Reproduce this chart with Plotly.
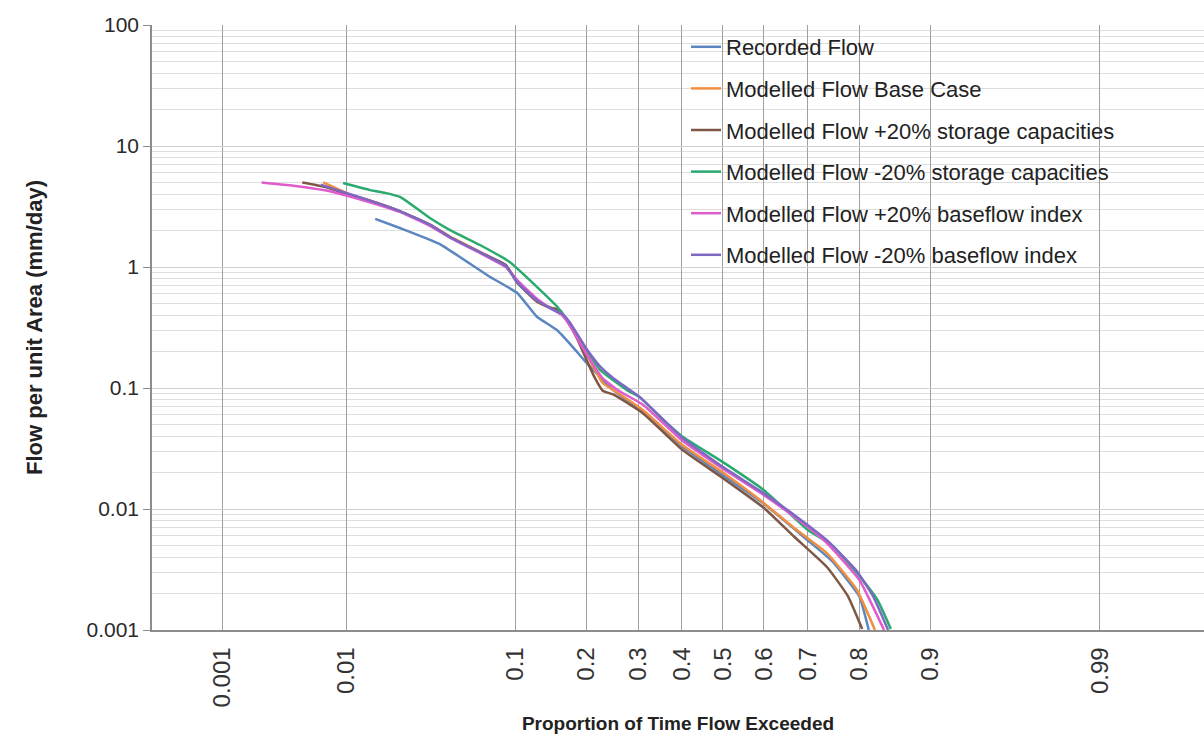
import plotly.graph_objects as go
from statistics import NormalDist

# ---------------- data (proportion of time exceeded, flow mm/day) ----------------
p_recorded = [0.0159, 0.023, 0.040, 0.075, 0.102, 0.125, 0.153, 0.177, 0.20, 0.249, 0.30, 0.40, 0.50, 0.60, 0.70, 0.75, 0.80, 0.816]
q_recorded = [2.5, 2.1, 1.55, 0.83, 0.61, 0.39, 0.30, 0.218, 0.161, 0.096, 0.068, 0.033, 0.019, 0.011, 0.0055, 0.0037, 0.0019, 0.001]

p_base = [0.0068, 0.01, 0.015, 0.023, 0.035, 0.046, 0.067, 0.09, 0.102, 0.125, 0.145, 0.16, 0.172, 0.2, 0.229, 0.26, 0.31, 0.40, 0.50, 0.59, 0.667, 0.74, 0.796, 0.826]
q_base = [5.0, 4.1, 3.5, 2.9, 2.25, 1.78, 1.33, 1.03, 0.76, 0.52, 0.45, 0.41, 0.34, 0.19, 0.11, 0.09, 0.066, 0.034, 0.020, 0.0119, 0.0071, 0.0043, 0.00214, 0.001]

p_stor_up = [0.0047, 0.007, 0.01, 0.015, 0.023, 0.035, 0.046, 0.067, 0.09, 0.102, 0.125, 0.145, 0.157, 0.168, 0.185, 0.2, 0.215, 0.229, 0.25, 0.31, 0.40, 0.50, 0.60, 0.67, 0.74, 0.78, 0.805]
q_stor_up = [5.0, 4.6, 4.0, 3.5, 2.9, 2.25, 1.77, 1.32, 1.04, 0.74, 0.52, 0.46, 0.44, 0.36, 0.25, 0.17, 0.12, 0.095, 0.088, 0.062, 0.031, 0.018, 0.0102, 0.0059, 0.0033, 0.0019, 0.00102]

p_stor_dn = [0.0095, 0.0147, 0.0185, 0.0231, 0.0352, 0.046, 0.0668, 0.094, 0.12, 0.153, 0.189, 0.224, 0.277, 0.304, 0.35, 0.40, 0.50, 0.60, 0.70, 0.75, 0.80, 0.83, 0.85]
q_stor_dn = [4.94, 4.32, 4.1, 3.79, 2.54, 2.02, 1.52, 1.1, 0.74, 0.47, 0.249, 0.141, 0.096, 0.084, 0.057, 0.040, 0.0244, 0.0143, 0.0067, 0.0050, 0.0028, 0.00177, 0.00102]

p_bfi_up = [0.0022, 0.004, 0.007, 0.01, 0.015, 0.023, 0.035, 0.046, 0.067, 0.09, 0.102, 0.125, 0.145, 0.16, 0.172, 0.2, 0.229, 0.26, 0.31, 0.40, 0.50, 0.60, 0.68, 0.74, 0.80, 0.84]
q_bfi_up = [5.0, 4.7, 4.3, 3.9, 3.4, 2.85, 2.2, 1.75, 1.3, 1.0, 0.78, 0.55, 0.45, 0.40, 0.33, 0.19, 0.12, 0.095, 0.073, 0.037, 0.0215, 0.013, 0.0081, 0.0052, 0.0026, 0.001]

p_bfi_dn = [0.0065, 0.01, 0.015, 0.023, 0.035, 0.046, 0.067, 0.09, 0.102, 0.125, 0.145, 0.16, 0.172, 0.2, 0.224, 0.25, 0.304, 0.40, 0.50, 0.598, 0.676, 0.74, 0.795, 0.823, 0.846]
q_bfi_dn = [4.8, 4.1, 3.5, 2.9, 2.25, 1.76, 1.32, 1.02, 0.75, 0.53, 0.45, 0.41, 0.35, 0.21, 0.151, 0.12, 0.084, 0.039, 0.0222, 0.0136, 0.0086, 0.0055, 0.0031, 0.0019, 0.001]

series_names = [
    "Recorded Flow",
    "Modelled Flow Base Case",
    "Modelled Flow +20% storage capacities",
    "Modelled Flow -20% storage capacities",
    "Modelled Flow +20% baseflow index",
    "Modelled Flow -20% baseflow index",
]
series_colors = ["#5b86c0", "#f28e3f", "#7e5746", "#2aaa6e", "#e05ccc", "#7d68c4"]

x_tick_labels = ["0.001", "0.01", "0.1", "0.2", "0.3", "0.4", "0.5", "0.6", "0.7", "0.8", "0.9", "0.99"]
y_tick_labels = ["0.001", "0.01", "0.1", "1", "10", "100"]

# ---------------- probability (normal) scale ----------------
nd = NormalDist()
def probit(vals):
    return [nd.inv_cdf(v) for v in vals]

series = [
    (p_recorded, q_recorded),
    (p_base, q_base),
    (p_stor_up, q_stor_up),
    (p_stor_dn, q_stor_dn),
    (p_bfi_up, q_bfi_up),
    (p_bfi_dn, q_bfi_dn),
]

FONT = "Liberation Sans, Arial, sans-serif"

fig = go.Figure()
for i, ((px, qy), name, col) in enumerate(zip(series, series_names, series_colors)):
    fig.add_trace(go.Scatter(
        x=probit(px), y=qy, mode="lines", name=name,
        legendgroup=f"g{i}",
        line=dict(color=col, width=2.5, shape="spline", smoothing=0.4),
    ))

x_tick_vals = probit([float(t) for t in x_tick_labels])
y_tick_vals = [float(t) for t in y_tick_labels]
minor_vals = [m * 10 ** e for e in range(-3, 2) for m in range(2, 10)]

# white legend panel covering the grid (drawn under the data)
fig.add_shape(type="rect", xref="paper", yref="paper",
              x0=(665 - 152) / 1052, x1=(1160 - 152) / 1052,
              y0=(630 - 275) / 605, y1=(630 - 28) / 605,
              fillcolor="white", line=dict(width=0), layer="below")

fig.update_layout(
    width=1204, height=738,
    margin=dict(l=152, r=0, t=25, b=108),
    paper_bgcolor="white", plot_bgcolor="white",
    font=dict(family=FONT, color="#222222", size=16),
    showlegend=True,
    legend=dict(
        x=(686 - 152) / 1052, y=(630 - 26) / 605, xanchor="left", yanchor="top",
        bgcolor="rgba(0,0,0,0)", borderwidth=0,
        font=dict(family=FONT, size=22, color="#222222"),
        traceorder="grouped", tracegroupgap=10,
    ),
    xaxis=dict(
        range=[-3.525, 2.97],
        tickmode="array", tickvals=x_tick_vals, ticktext=x_tick_labels,
        tickangle=-90, tickfont=dict(size=24, color="#333333"),
        showgrid=True, gridcolor="#a0a0a0", gridwidth=1,
        zeroline=False, showline=True, linecolor="#8c8c8c", linewidth=1.5,
        ticks="", ticklabelstandoff=6,
        title=dict(text="<b>Proportion of Time Flow Exceeded</b>",
                   font=dict(size=19, color="#222222"), standoff=10),
    ),
    yaxis=dict(
        type="log", range=[-3, 2],
        tickmode="array", tickvals=y_tick_vals, ticktext=y_tick_labels,
        tickfont=dict(size=21, color="#2a2a2a"),
        showgrid=True, gridcolor="#cfcfcf", gridwidth=1,
        minor=dict(tickmode="array", tickvals=minor_vals, showgrid=True,
                   gridcolor="#dedede", gridwidth=1, ticks=""),
        zeroline=False, showline=True, linecolor="#8c8c8c", linewidth=1.5,
        ticks="outside", ticklen=7, tickcolor="#8c8c8c",
        title=dict(text="<b>Flow per unit Area (mm/day)</b>",
                   font=dict(size=22, color="#222222"), standoff=38),
    ),
)

fig.write_html("out.html")
